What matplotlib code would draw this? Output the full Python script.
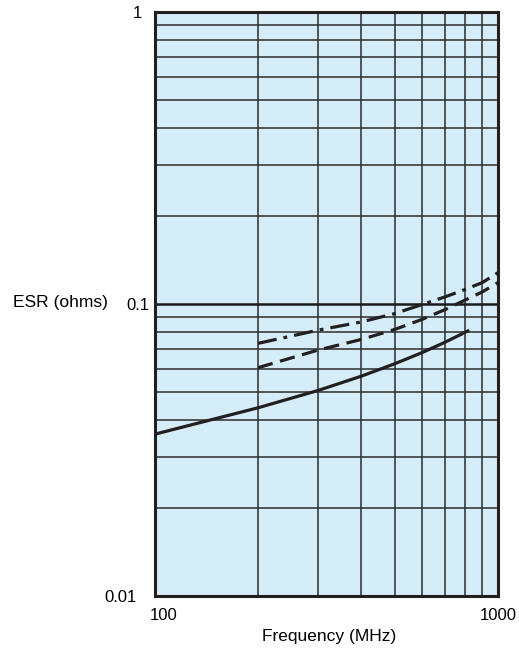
import numpy as np
import matplotlib.pyplot as plt
from matplotlib.ticker import LogLocator, NullFormatter
import matplotlib.transforms as mtransforms

plt.rcParams['font.family'] = ['Liberation Sans', 'DejaVu Sans']

# ESR curves (frequency in MHz, ESR in ohms)
freq_solid = [100, 200, 300, 400, 500, 600, 700, 825]
esr_solid = [0.0358, 0.0441, 0.0506, 0.0566, 0.0624, 0.0681, 0.0739, 0.0813]

freq_dash = [200, 300, 400, 500, 600, 700, 800, 900, 1000]
esr_dash = [0.0605, 0.0696, 0.0756, 0.0818, 0.0885, 0.0956, 0.103, 0.110, 0.1184]

freq_dashdot = [200, 300, 400, 500, 600, 700, 800, 900, 1000]
esr_dashdot = [0.0733, 0.0814, 0.0868, 0.0927, 0.0995, 0.1057, 0.112, 0.1184, 0.128]

xtick_vals = [100, 1000]
xtick_labels = ['100', '1000']
ytick_vals = [0.01, 0.1, 1]
ytick_labels = ['0.01', '0.1', '1']

W, H = 519, 654
fig = plt.figure(figsize=(W / 100, H / 100), dpi=100)
left, right, top, bottom = 154.5, 498, 12, 596
ax = fig.add_axes([left / W, 1 - bottom / H, (right - left) / W, (bottom - top) / H])
ax.set_facecolor('#d5edf9')
ax.set_xscale('log')
ax.set_yscale('log')
ax.set_xlim(100, 1000)
ax.set_ylim(0.01, 1)

# grid
ax.xaxis.set_minor_locator(LogLocator(base=10, subs=np.arange(2, 10)))
ax.yaxis.set_minor_locator(LogLocator(base=10, subs=np.arange(2, 10)))
ax.xaxis.set_minor_formatter(NullFormatter())
ax.yaxis.set_minor_formatter(NullFormatter())
ax.grid(which='minor', axis='both', color='#333333', lw=1.15)
ax.grid(which='major', axis='y', color='#1a1a1a', lw=1.8)
ax.set_axisbelow(True)

ls_dash = (0, (4.8, 2.4))
ls_dashdot = (0, (6, 2.2, 1.2, 2.2))
ax.plot(freq_solid, esr_solid, color='#231f20', lw=2.3, solid_capstyle='butt')
ax.plot(freq_dash, esr_dash, color='#231f20', lw=2.3, linestyle=ls_dash)
ax.plot(freq_dashdot, esr_dashdot, color='#231f20', lw=2.3, linestyle=ls_dashdot)

for s in ax.spines.values():
    s.set_linewidth(2.2)
    s.set_color('#231f20')

ax.tick_params(which='both', length=0)
ax.set_xticks(xtick_vals, xtick_labels, fontsize=12)
ax.set_yticks(ytick_vals, ytick_labels, fontsize=12)
ax.tick_params(axis='x', pad=9)
ax.tick_params(axis='y', pad=4)

# nudge individual tick labels like the reference
xoffs = [9.5 / 100, 0]
for lab, dx in zip(ax.get_xticklabels(), xoffs):
    lab.set_transform(lab.get_transform() + mtransforms.ScaledTranslation(dx, 0, fig.dpi_scale_trans))
yoffs = [-12 / 100, 0, -7 / 100]
for lab, dx in zip(ax.get_yticklabels(), yoffs):
    lab.set_transform(lab.get_transform() + mtransforms.ScaledTranslation(dx, 0, fig.dpi_scale_trans))

fig.text(13 / W, 1 - 302 / H, 'ESR (ohms)', fontsize=12.5, ha='left', va='center')
fig.text(329 / W, 1 - 636 / H, 'Frequency (MHz)', fontsize=12.5, ha='center', va='center')

fig.savefig('out.png', dpi=100)
